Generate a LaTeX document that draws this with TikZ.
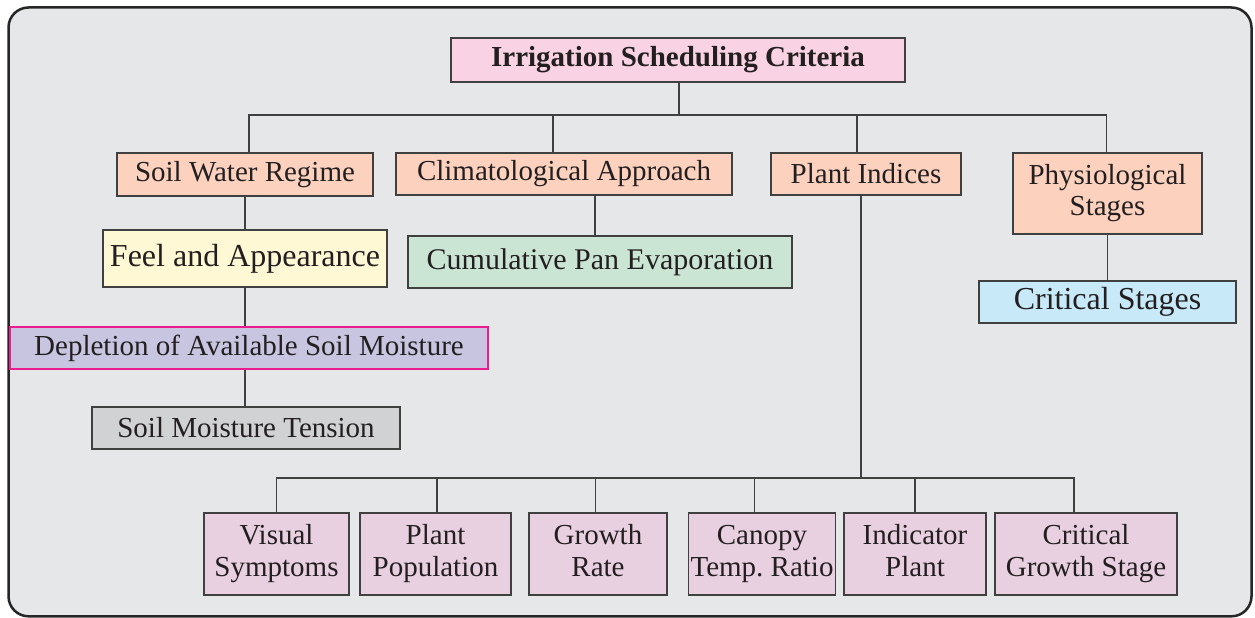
\documentclass[tikz,border=0pt]{standalone}
\usepackage{fontspec}
\setmainfont{Liberation Serif}
\frenchspacing
\definecolor{bgc}{HTML}{E6E7E8}
\definecolor{titlec}{HTML}{F9D3E3}
\definecolor{salmon}{HTML}{FCD2BF}
\definecolor{yellowc}{HTML}{FFF8D5}
\definecolor{greenc}{HTML}{CBE5D4}
\definecolor{bluec}{HTML}{C7E9F8}
\definecolor{lavc}{HTML}{C8C5E1}
\definecolor{magc}{HTML}{EC1C8C}
\definecolor{grayc}{HTML}{D1D2D4}
\definecolor{botc}{HTML}{E8D0E1}
\definecolor{linec}{HTML}{404041}
\definecolor{txtc}{HTML}{231F20}
\newcommand{\lst}{\rule[-8pt]{0pt}{29pt}}
\begin{document}
\begin{tikzpicture}[x=1pt,y=-1pt,
  box/.style={draw=linec, line width=1.4pt, text=txtc, inner sep=0pt, align=center,
    font=\fontsize{29}{31}\selectfont},
  bigbox/.style={box, font=\fontsize{32}{34}\selectfont},
  botbox/.style={box, fill=botc, minimum width=#1, minimum height=82pt, font=\fontsize{29}{32}\selectfont},
  conn/.style={draw=linec, line width=1.3pt}]
\useasboundingbox (0,0) rectangle (1255,618);
\draw[line width=2.5pt, draw=black!85, fill=bgc, rounded corners=20pt] (8.5,7.5) rectangle (1251.5,616.3);

\node[box, fill=titlec, minimum width=454pt, minimum height=44pt, font=\fontsize{29}{31}\selectfont\bfseries] (title) at (678,60) {Irrigation Scheduling Criteria};
\node[box, fill=salmon, minimum width=256pt, minimum height=43pt] (swr) at (245,174.5) {Soil Water Regime};
\node[box, fill=salmon, minimum width=336pt, minimum height=42pt] (clim) at (564,174) {Climatological Approach};
\node[box, fill=salmon, minimum width=190pt, minimum height=42pt] (pi) at (866,174) {Plant Indices};
\node[box, fill=salmon, minimum width=189pt, minimum height=81pt] (phys) at (1107.5,193.5) {\lst Physiological\\\lst Stages};
\node[bigbox, fill=yellowc, minimum width=284pt, minimum height=57pt] (feel) at (245,258.5) {Feel and Appearance};
\node[box, fill=greenc, minimum width=384pt, minimum height=52pt, font=\fontsize{30}{32}\selectfont] (cum) at (600,262) {Cumulative Pan Evaporation};
\node[bigbox, fill=bluec, minimum width=257pt, minimum height=42pt] (crit) at (1107.5,302) {Critical Stages};
\node[box, fill=lavc, draw=magc, minimum width=478pt, minimum height=42pt] (depl) at (249,348) {Depletion of Available Soil Moisture};
\node[box, fill=grayc, minimum width=308pt, minimum height=42pt] (smt) at (246,428) {Soil Moisture Tension};

\node[botbox=145pt] (vs) at (276.5,554) {\lst Visual\\\lst Symptoms};
\node[botbox=151pt] (pp) at (435.5,554) {\lst Plant\\\lst Population};
\node[botbox=138pt] (gr) at (598,554) {\lst Growth\\\lst Rate};
\node[botbox=147pt] (ct) at (762,554) {\lst Canopy\\\lst Temp. Ratio};
\node[botbox=142pt] (ip) at (915,554) {\lst Indicator\\\lst Plant};
\node[botbox=182pt] (cg) at (1086,554) {\lst Critical\\\lst Growth Stage};

% top level connectors
\coordinate (bus) at (679,115);
\draw[conn] (title.south -| bus) -- (bus);
\draw[conn] ([xshift=4pt]swr.north) |- (bus) -| ([xshift=-1pt]phys.north);
\draw[conn] ([xshift=-11pt]clim.north) -- ([xshift=-11pt]clim.north |- bus);
\draw[conn] ([xshift=-9pt]pi.north) -- ([xshift=-9pt]pi.north |- bus);
% branches
\draw[conn] (swr.south) -- (feel.north);
\draw[conn] (feel.south) -- (feel.south |- depl.north);
\draw[conn] (smt.north -| feel.south) -- (depl.south -| feel.south);
\draw[conn] ([xshift=-5pt]cum.north) -- ([xshift=-5pt]cum.north |- clim.south);
\draw[conn] (crit.north) -- (crit.north |- phys.south);
% plant indices subtree
\coordinate (bbus) at (861,478);
\draw[conn] ([xshift=-5pt]pi.south) -- (bbus);
\draw[conn] (vs.north) |- (bbus) -| ([xshift=-12pt]cg.north);
\draw[conn] ([xshift=1.5pt]pp.north) -- ([xshift=1.5pt]pp.north |- bbus);
\draw[conn] ([xshift=-2.4pt]gr.north) -- ([xshift=-2.4pt]gr.north |- bbus);
\draw[conn] ([xshift=-7.6pt]ct.north) -- ([xshift=-7.6pt]ct.north |- bbus);
\draw[conn] (ip.north) -- (ip.north |- bbus);
\end{tikzpicture}
\end{document}
